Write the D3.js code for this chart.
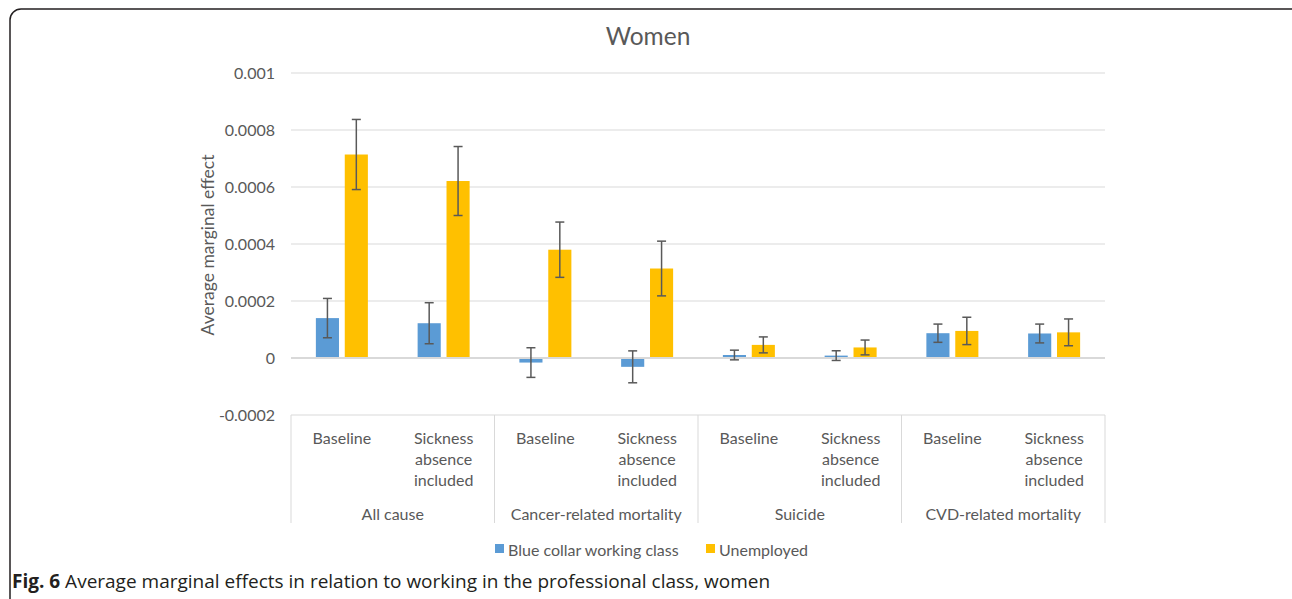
<!DOCTYPE html>
<html>
<head>
<meta charset="utf-8">
<script src="https://cdn.jsdelivr.net/npm/d3@7"></script>
<style>
  html, body { margin: 0; padding: 0; background: #fff; }
  svg { display: block; }
  text { font-family: Lato, "Open Sans", sans-serif; }
</style>
</head>
<body>
<svg id="chart" width="1292" height="599"></svg>
<script>
// Outcome groups and model specifications
const groups = ["All cause", "Cancer-related mortality", "Suicide", "CVD-related mortality"];
const specs = ["Baseline", "Sickness absence included"];
const seriesNames = ["Blue collar working class", "Unemployed"];

// Average marginal effects (one value per group × specification)
const blueCollar = [0.000140, 0.000122, -0.000016, -0.000031, 0.0000105, 0.0000084, 0.000087, 0.000086];
const blueCollarErr = [0.000069, 0.000072, 0.000052, 0.000056, 0.000017, 0.000017, 0.000032, 0.000033];
const unemployed = [0.000714, 0.000621, 0.000380, 0.000314, 0.000046, 0.000037, 0.000095, 0.000090];
const unemployedErr = [0.000123, 0.000121, 0.000097, 0.000096, 0.000028, 0.000026, 0.000048, 0.000047];

// Y axis ticks
const yTicks = [0.001, 0.0008, 0.0006, 0.0004, 0.0002, 0, -0.0002];
const yTickLabels = ["0.001", "0.0008", "0.0006", "0.0004", "0.0002", "0", "-0.0002"];

const colors = ["#5B9BD5", "#FFC000"];
const textColor = "#595959";
const gridColor = "#D9D9D9";

const svg = d3.select("#chart");

// Rounded frame around figure
svg.append("rect")
  .attr("x", 10).attr("y", 9)
  .attr("width", 1300).attr("height", 700)
  .attr("rx", 11).attr("ry", 11)
  .attr("fill", "none").attr("stroke", "#231f20").attr("stroke-width", 1.5);

const plot = { left: 291, right: 1105, top: 73, bottom: 415 };

// Flattened category list: group × spec
const cats = [];
groups.forEach((g, gi) => specs.forEach((s, si) => cats.push({ g, gi, s, si, i: gi * specs.length + si })));

const x0 = d3.scaleBand().domain(cats.map(c => c.i)).range([plot.left, plot.right]).padding(0);
const bw = x0.bandwidth();
const x1 = d3.scaleBand().domain([0, 1]).range([bw / 2 - 26, bw / 2 + 26]).paddingInner(0.2).paddingOuter(0);
const y = d3.scaleLinear().domain([-0.0002, 0.001]).range([plot.bottom, plot.top]);

// Gridlines
svg.append("g").selectAll("line").data(yTicks.filter(t => t !== 0)).join("line")
  .attr("x1", plot.left).attr("x2", plot.right)
  .attr("y1", d => y(d)).attr("y2", d => y(d))
  .attr("stroke", gridColor).attr("stroke-width", 1);

// Y axis labels
const yAxis = d3.axisLeft(y).tickValues(yTicks).tickSize(0).tickPadding(0)
  .tickFormat((d, i) => yTickLabels[i]);
const yg = svg.append("g").attr("transform", `translate(${plot.left - 16},0)`).call(yAxis);
yg.select(".domain").remove();
yg.selectAll("text").attr("fill", textColor).style("font-size", "16px").style("font-family", "Lato, sans-serif");

// Y axis title
svg.append("text")
  .attr("transform", `translate(207,${(plot.top + plot.bottom) / 2 + 1}) rotate(-90)`)
  .attr("text-anchor", "middle").attr("dominant-baseline", "central")
  .attr("fill", textColor).style("font-size", "17.5px")
  .text("Average marginal effect");

// Title
svg.append("text")
  .attr("x", 648).attr("y", 35)
  .attr("text-anchor", "middle").attr("dominant-baseline", "central")
  .attr("fill", textColor).style("font-size", "24.5px")
  .text("Women");

// Bars
const seriesData = [
  { vals: blueCollar, errs: blueCollarErr },
  { vals: unemployed, errs: unemployedErr }
];
seriesData.forEach((s, k) => {
  const gBars = svg.append("g");
  gBars.selectAll("rect").data(cats).join("rect")
    .attr("x", c => x0(c.i) + x1(k))
    .attr("width", x1.bandwidth())
    .attr("y", c => y(Math.max(0, s.vals[c.i])))
    .attr("height", c => Math.abs(y(s.vals[c.i]) - y(0)))
    .attr("fill", colors[k]);
});

// Zero axis line
svg.append("line")
  .attr("x1", plot.left).attr("x2", plot.right)
  .attr("y1", y(0)).attr("y2", y(0))
  .attr("stroke", gridColor).attr("stroke-width", 2);

// Error bars
seriesData.forEach((s, k) => {
  const gErr = svg.append("g").attr("stroke", "#595959").attr("stroke-width", 1.5);
  cats.forEach(c => {
    const cx = x0(c.i) + x1(k) + x1.bandwidth() / 2;
    const hi = y(s.vals[c.i] + s.errs[c.i]);
    const lo = y(s.vals[c.i] - s.errs[c.i]);
    gErr.append("line").attr("x1", cx).attr("x2", cx).attr("y1", hi).attr("y2", lo);
    gErr.append("line").attr("x1", cx - 4.5).attr("x2", cx + 4.5).attr("y1", hi).attr("y2", hi);
    gErr.append("line").attr("x1", cx - 4.5).attr("x2", cx + 4.5).attr("y1", lo).attr("y2", lo);
  });
});

// Category axis box: group separators
const boxBottom = 523;
const sepX = groups.map((g, gi) => x0(gi * specs.length)).concat([plot.right]);
svg.append("g").selectAll("line").data(sepX).join("line")
  .attr("x1", d => d).attr("x2", d => d)
  .attr("y1", plot.bottom).attr("y2", boxBottom)
  .attr("stroke", gridColor).attr("stroke-width", 1);

// Specification labels (wrapped)
const specLines = { "Baseline": ["Baseline"], "Sickness absence included": ["Sickness", "absence", "included"] };
const specG = svg.append("g").attr("fill", textColor).style("font-size", "16px");
cats.forEach(c => {
  const t = specG.append("text")
    .attr("x", x0(c.i) + bw / 2).attr("y", 437)
    .attr("text-anchor", "middle").attr("dominant-baseline", "central");
  specLines[c.s].forEach((ln, li) => {
    t.append("tspan").attr("x", x0(c.i) + bw / 2).attr("y", 437 + li * 21).text(ln);
  });
});

// Group labels
svg.append("g").selectAll("text").data(groups).join("text")
  .attr("x", (g, gi) => (sepX[gi] + sepX[gi + 1]) / 2)
  .attr("y", 513)
  .attr("text-anchor", "middle").attr("dominant-baseline", "central")
  .attr("fill", textColor).style("font-size", "16px")
  .text(d => d);

// Legend
const legendItems = [{ name: seriesNames[0], x: 495 }, { name: seriesNames[1], x: 706 }];
const lg = svg.append("g");
legendItems.forEach((it, k) => {
  lg.append("rect").attr("x", it.x).attr("y", 544).attr("width", 9).attr("height", 9).attr("fill", colors[k]);
  lg.append("text").attr("x", it.x + 13).attr("y", 549)
    .attr("dominant-baseline", "central")
    .attr("fill", textColor).style("font-size", "16px")
    .text(it.name);
});

// Caption
const cap = svg.append("text").attr("x", 12).attr("y", 588)
  .attr("fill", "#231f20").style("font-size", "19px").style("font-family", "'Open Sans', sans-serif");
cap.append("tspan").style("font-weight", "bold").text("Fig. 6");
cap.append("tspan").text(" Average marginal effects in relation to working in the professional class, women");
</script>
</body>
</html>
